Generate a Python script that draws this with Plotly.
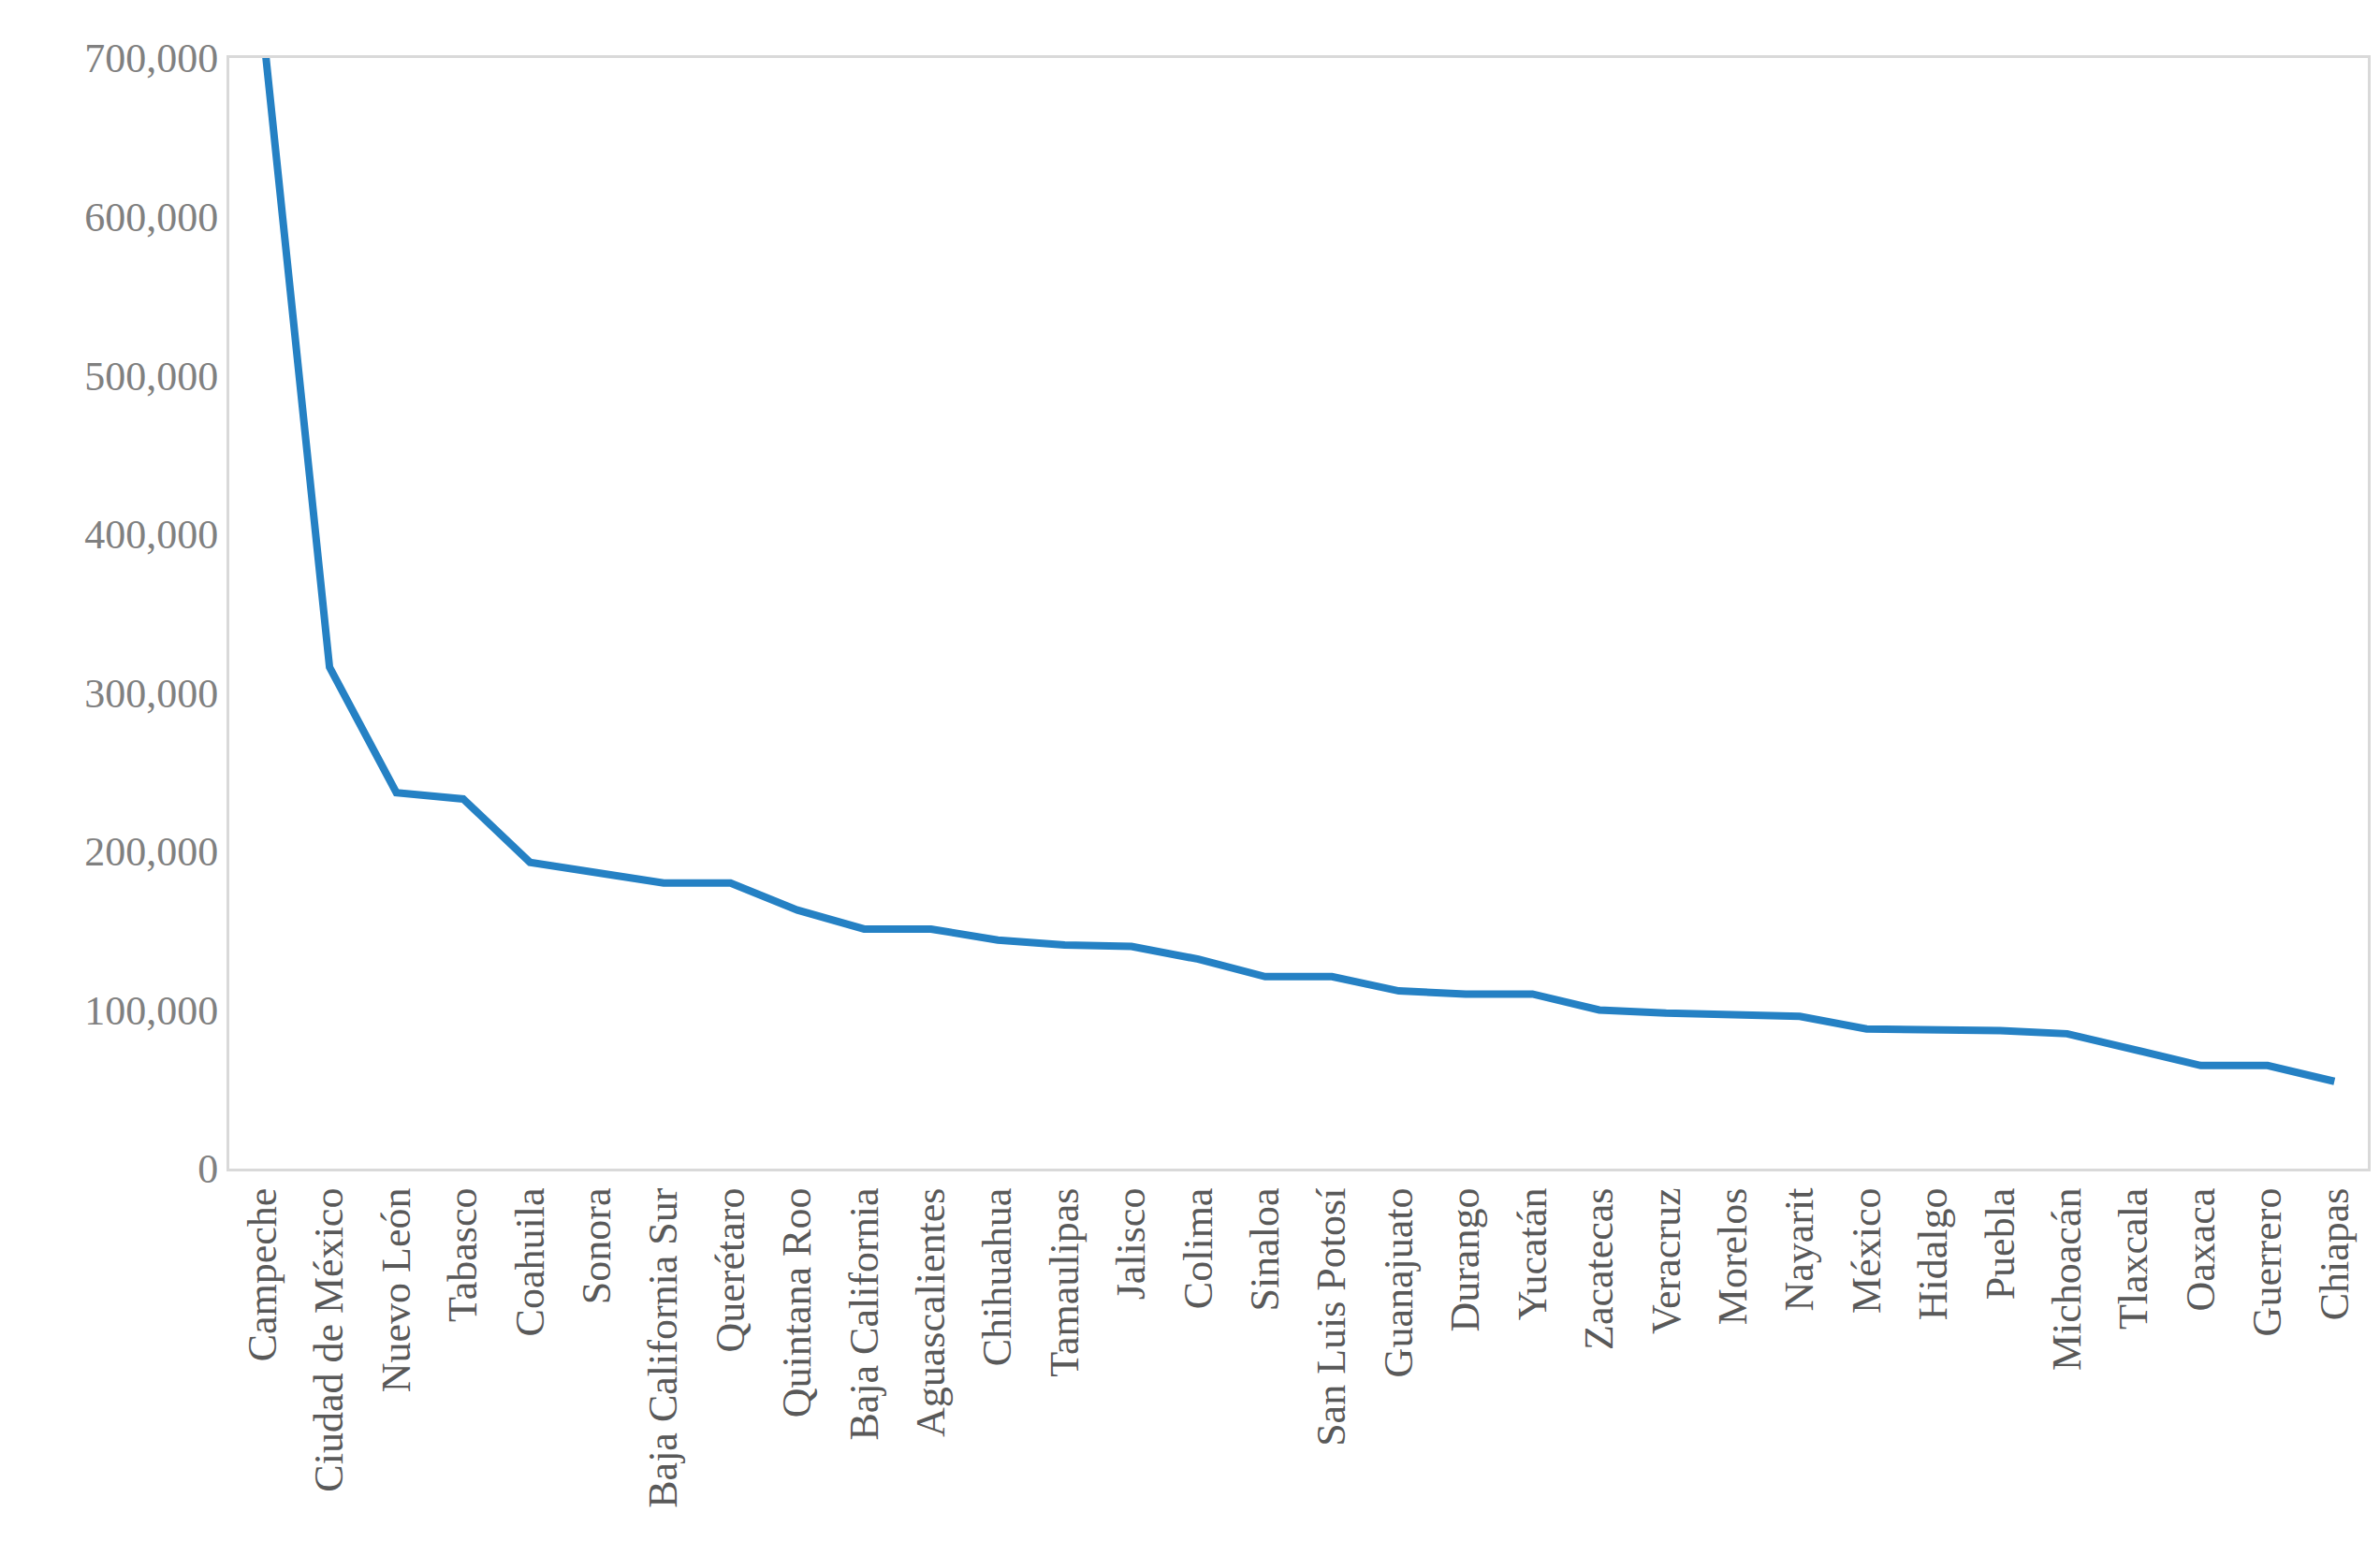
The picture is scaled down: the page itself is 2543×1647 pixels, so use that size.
import plotly.graph_objects as go

states = ["Campeche", "Ciudad de México", "Nuevo León", "Tabasco", "Coahuila", "Sonora",
          "Baja California Sur", "Querétaro", "Quintana Roo", "Baja California",
          "Aguascalientes", "Chihuahua", "Tamaulipas", "Jalisco", "Colima", "Sinaloa",
          "San Luis Potosí", "Guanajuato", "Durango", "Yucatán", "Zacatecas", "Veracruz",
          "Morelos", "Nayarit", "México", "Hidalgo", "Puebla", "Michoacán", "Tlaxcala",
          "Oaxaca", "Guerrero", "Chiapas"]
values = [720000, 316000, 237000, 233000, 193000, 186000, 180000, 180000, 163000, 151000,
          151000, 144000, 141000, 140000, 132000, 121000, 121000, 112000, 110000, 110000,
          100000, 98000, 97000, 96000, 88000, 88000, 87000, 85000, 75000, 65000, 65000, 55000]

fig = go.Figure()
fig.add_trace(go.Scatter(x=states, y=values, mode="lines",
                         line=dict(color="#2581c4", width=8)))

font = dict(family="Liberation Serif", size=44, color="#808080")
fig.update_layout(
    width=2543, height=1647,
    paper_bgcolor="white", plot_bgcolor="white",
    margin=dict(l=237, r=21, t=54, b=406),
    showlegend=False,
    font=font,
)
fig.update_xaxes(tickangle=-90, range=[-0.5, len(states) - 0.5],
                 tickfont=dict(family="Liberation Serif", size=44, color="#595959"),
                 showline=True, linecolor="#d9d9d9", linewidth=3, mirror=True,
                 showgrid=False, ticks="")
fig.update_yaxes(range=[0, 700000], tickvals=[0, 100000, 200000, 300000, 400000, 500000, 600000, 700000],
                 tickformat=",d", tickfont=font,
                 showline=True, linecolor="#d9d9d9", linewidth=3, mirror=True,
                 showgrid=False, zeroline=False, ticks="")

fig.write_html("out.html")
